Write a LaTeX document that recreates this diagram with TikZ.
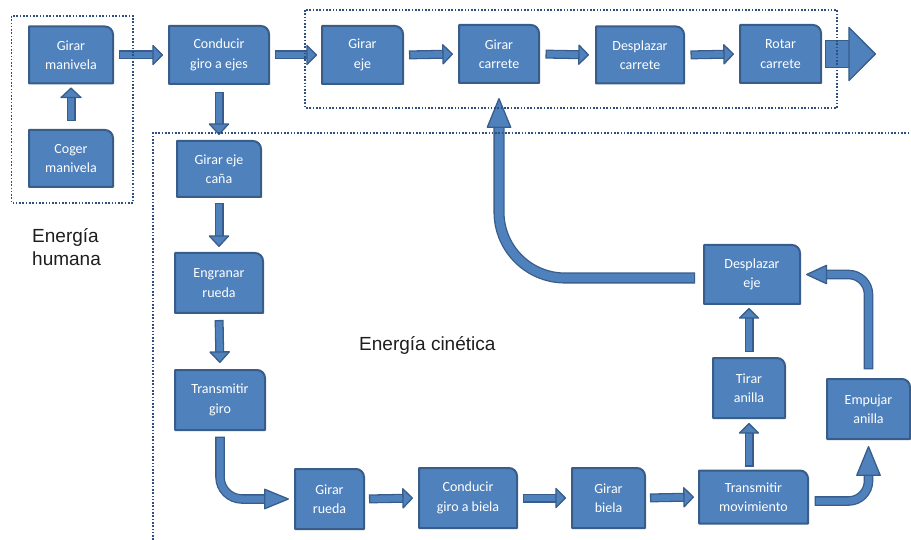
\documentclass[tikz,border=0pt]{standalone}
\usepackage{fontspec}
\usepackage{tikz}
\usetikzlibrary{arrows.meta,backgrounds,calc}
\newfontfamily\cajafont{Carlito}
\newfontfamily\rotulofont{Liberation Sans}
\definecolor{boxFill}{RGB}{79,129,189}
\definecolor{boxLine}{RGB}{56,93,138}
\definecolor{groupLine}{RGB}{47,78,125}
\definecolor{labelGray}{RGB}{30,30,30}

\begin{document}
\begin{tikzpicture}[x=1pt,y=-1pt,
    paso/.style 2 args={minimum width=#1, minimum height=#2, inner sep=1pt, outer sep=0pt, align=center, text=white, font=\cajafont\fontsize{14}{19.5}\selectfont},
    caja/.style={fill=boxFill, draw=boxLine, line width=2pt, line join=round},
    flujo/.style={draw=boxLine, line width=1.3pt, double=boxFill, double distance=#1, line cap=rect},
    punta/.style 2 args={-{Triangle[length=#1, width=#2, fill=boxFill, color=boxLine, line width=1.3pt, round]}},
    grupo/.style={draw=groupLine, line width=1.6pt, dash pattern=on 1.6pt off 1.7pt},
    rotulo/.style={inner sep=0pt, align=left, text=labelGray, font=\rotulofont\fontsize{19}{23}\selectfont}]
\useasboundingbox (0,0) rectangle (911,540);

\node[paso={84pt}{57pt}] (gm) at (71,55) {Girar\\manivela};
\node[paso={84pt}{57pt}] (cm) at (71,158.5) {Coger\\manivela};
\node[paso={100pt}{58pt}] (cg) at (219,55) {Conducir\\giro a ejes};
\node[paso={81pt}{58pt}] (ge) at (362.5,55) {Girar\\eje};
\node[paso={80pt}{58pt}] (gc) at (499,54) {Girar\\carrete};
\node[paso={88pt}{57pt}] (dc) at (640,55) {Desplazar\\carrete};
\node[paso={81pt}{58pt}] (rc) at (780.5,54) {Rotar\\carrete};
\coordinate (salida) at (876,54);

\node[paso={84pt}{56pt}] (gec) at (219,169) {Girar eje\\caña};
\node[paso={88pt}{60pt}] (er) at (219,283) {Engranar\\rueda};
\node[paso={90pt}{60pt}] (tg) at (220,400) {Transmitir\\giro};
\node[paso={69pt}{60pt}] (gr) at (329.5,499) {Girar\\rueda};
\node[paso={98pt}{60pt}] (cb) at (468,498) {Conducir\\giro a biela};
\node[paso={73pt}{60pt}] (gb) at (608.5,498) {Girar\\biela};
\node[paso={109pt}{53pt}] (tm) at (753.5,497) {Transmitir\\movimiento};
\node[paso={72pt}{60pt}] (ta) at (749,388) {Tirar\\anilla};
\node[paso={96pt}{59pt}] (de) at (752,274.5) {Desplazar\\eje};
\node[paso={83pt}{60pt}] (ea) at (868.5,409) {Empujar\\anilla};

\node[rotulo, anchor=west] (eh) at (32,247) {Energía\\humana};
\node[rotulo, anchor=base west] (ec) at (359,350) {Energía cinética};

\begin{scope}[on background layer]
  \foreach \n in {gm,cm,cg,ge,gc,dc,rc,gec,er,tg,gr,cb,gb,tm,ta,de,ea}
    \filldraw[caja] (\n.south west) -- (\n.north west) -- ([xshift=-8pt]\n.north east)
      arc[start angle=90, end angle=0, radius=8pt] -- (\n.south east) -- cycle;
\end{scope}

\draw[flujo=6.4pt, punta={11pt}{23pt}, shorten <=13.5pt, shorten >=4pt] (cm.north) -- (gm.south);
\draw[flujo=6.4pt, punta={11pt}{22pt}, shorten <=10.5pt, shorten >=6pt] (gm.east) -- (cg.west);
\draw[flujo=6.4pt, punta={11pt}{22pt}, shorten <=10.5pt, shorten >=5pt] (cg.east) -- (ge.west);
\draw[flujo=6.4pt, punta={11pt}{22pt}, shorten <=10.5pt, shorten >=6pt] (ge.east) -- (gc.west);
\draw[flujo=6.4pt, punta={11pt}{22pt}, shorten <=11pt, shorten >=7pt] (gc.east) -- (dc.west);
\draw[flujo=6.4pt, punta={11pt}{22pt}, shorten <=11pt, shorten >=6pt] (dc.east) -- (rc.west);
\draw[flujo=26pt, punta={28pt}{56pt}, shorten <=18.3pt] (rc.east) -- (salida);

\draw[flujo=6.4pt, punta={12pt}{22pt}, shorten <=12.5pt, shorten >=6pt] (cg.south) -- (gec.north);
\draw[flujo=6.4pt, punta={12pt}{22pt}, shorten <=10.5pt, shorten >=6pt] (gec.south) -- (er.north);
\draw[flujo=6.4pt, punta={12pt}{22pt}, shorten <=11.5pt, shorten >=7pt] (er.south) -- (tg.north);
\draw[flujo=7pt, punta={26pt}{21pt}, rounded corners=22pt, shorten <=11.5pt, shorten >=6pt] (tg.south) |- (gr.west);

\draw[flujo=6.4pt, punta={11pt}{22pt}, shorten <=9.5pt, shorten >=6pt] (gr.east) -- (cb.west);
\draw[flujo=6.4pt, punta={11pt}{22pt}, shorten <=10.5pt, shorten >=6pt] (cb.east) -- (gb.west);
\draw[flujo=6.4pt, punta={11pt}{22pt}, shorten <=9.5pt, shorten >=5pt] (gb.east) -- (tm.west);
\draw[flujo=6.4pt, punta={11pt}{22pt}, shorten <=8.5pt, shorten >=5pt] (tm.north -| ta) -- (ta.south);
\draw[flujo=6.4pt, punta={11pt}{22pt}, shorten <=10.5pt, shorten >=4pt] (ta.north) -- (ta.north |- de.south);
\draw[flujo=7pt, punta={31pt}{25pt}, rounded corners=20pt, shorten <=11.5pt, shorten >=7pt] ([yshift=-4pt]tm.east) -| (ea.south);
\draw[flujo=7pt, punta={22pt}{20pt}, rounded corners=20pt, shorten <=14.5pt, shorten >=6pt] (ea.north) |- (de.east);
\draw[flujo=8.5pt, punta={31pt}{25pt}, rounded corners=66pt, shorten <=14.5pt, shorten >=15pt] ([yshift=-3.5pt]de.west) -| (gc.south);

\draw[grupo] (11.5,16) rectangle (133,203);
\draw[grupo] (305,10) rectangle (837,108);
\draw[grupo] (153,540) -- (153,133) -- (911,133);
\end{tikzpicture}
\end{document}
